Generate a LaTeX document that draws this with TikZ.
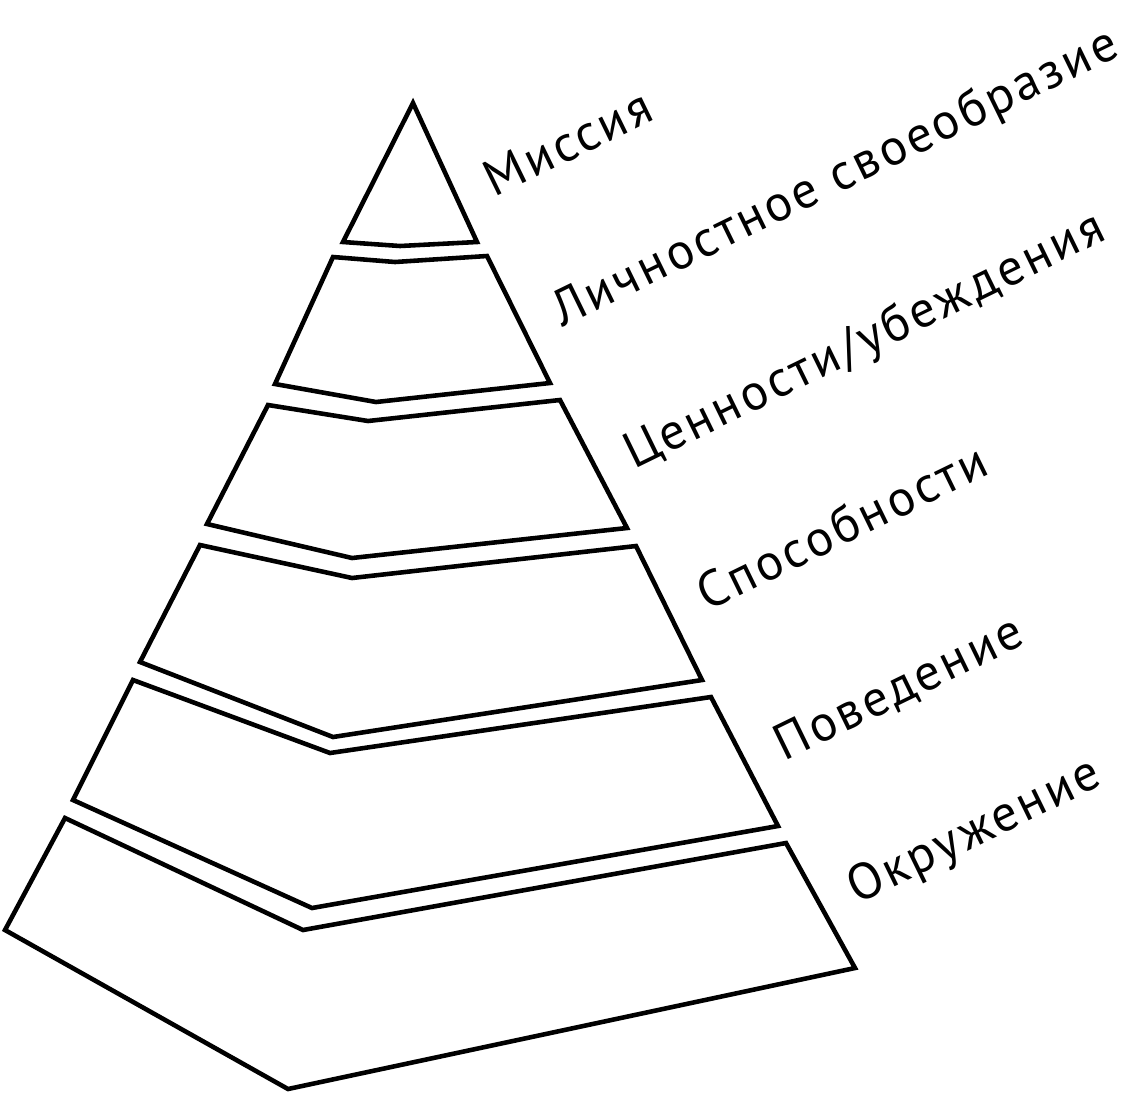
\documentclass[tikz,border=0pt]{standalone}
\usepackage{fontspec}
\setmainfont{PT Sans}[LetterSpace=6]
\begin{document}
\begin{tikzpicture}[x=0.02cm,y=-0.02cm,
  layer/.style={draw=black,line width=2.6pt,line join=miter,fill=white},
  lbl/.style={anchor=base west,rotate=26,inner sep=0pt,font=\fontsize{29}{34}\selectfont}]
\useasboundingbox (0,0) rectangle (1131,1093);
% layers
\draw[layer] (413,103) -- (477,242) -- (400,246) -- (343,242) -- cycle;
\draw[layer] (333,257) -- (395,262) -- (487,256) -- (550,383) -- (376,402) -- (275,384) -- cycle;
\draw[layer] (268,405) -- (368,421) -- (560,400) -- (627,528) -- (352,558) -- (207,524) -- cycle;
\draw[layer] (200,545) -- (352,578) -- (636,546) -- (702,680) -- (333,737) -- (140,662) -- cycle;
\draw[layer] (133,680) -- (330,753) -- (711,697) -- (778,826) -- (312,908) -- (73,800) -- cycle;
\draw[layer] (65,818) -- (303,930) -- (786,843) -- (855,968) -- (288,1089) -- (5,930) -- cycle;
% labels
\node[lbl] (l1) at (494,198) {Миссия};
\node[lbl] (l2) at (562,328) {Личностное своеобразие};
\node[lbl] (l3) at (634,470) {Ценности/убеждения};
\node[lbl] (l4) at (707,612) {Способности};
\node[lbl] (l5) at (784,762) {Поведение};
\node[lbl] (l6) at (857,905) {Окружение};
\end{tikzpicture}
\end{document}
